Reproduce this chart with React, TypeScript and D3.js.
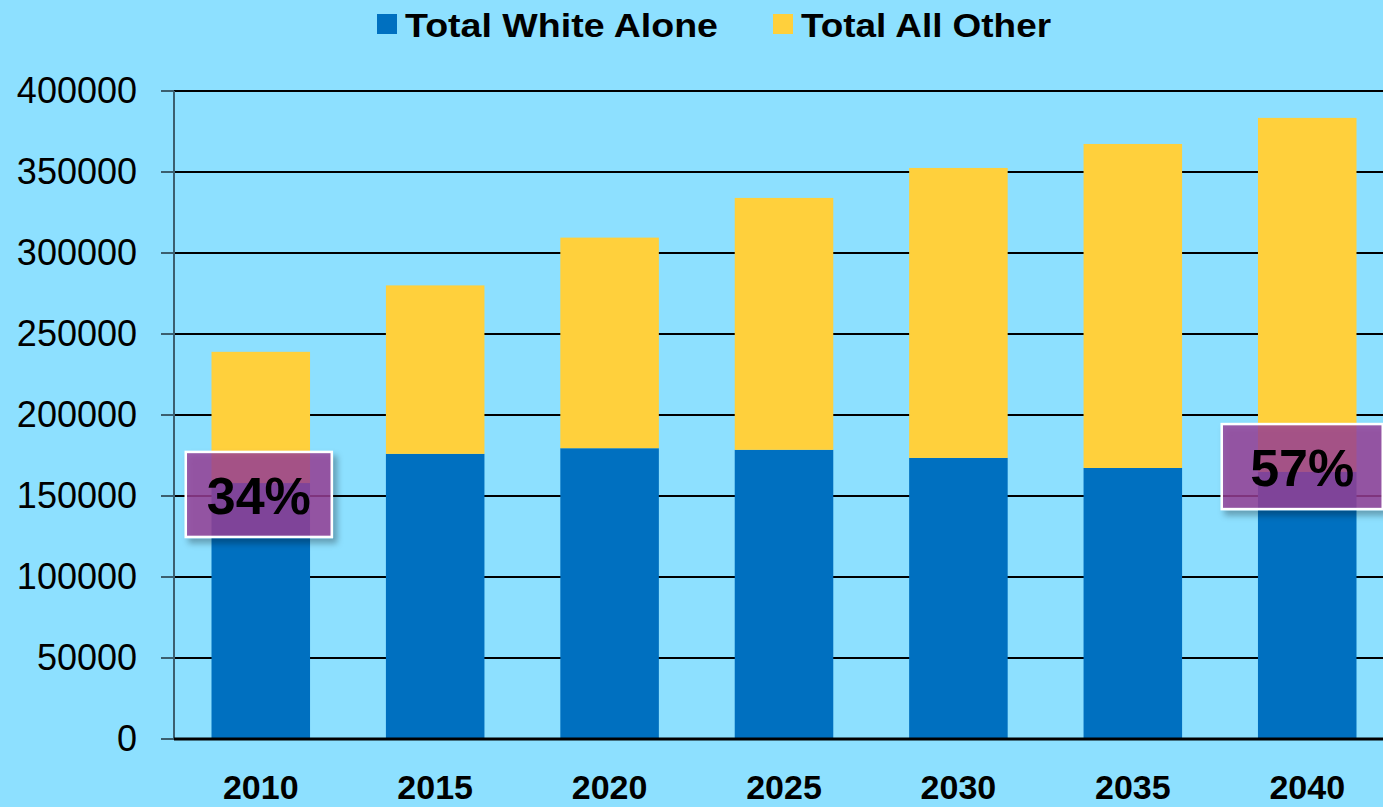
import { useEffect, useRef } from "react";
import * as d3 from "d3";

const years = ["2010", "2015", "2020", "2025", "2030", "2035", "2040"];
const whiteAlone = [158000, 176000, 179500, 178500, 173500, 167300, 164900];
const allOther = [81000, 104000, 130000, 155500, 179000, 200000, 218500];
const yTicks = [0, 50000, 100000, 150000, 200000, 250000, 300000, 350000, 400000];
const seriesNames = ["Total White Alone", "Total All Other"];

// percent call-outs: year, label, top of box in data units
const callouts = [
  { year: "2010", label: "34%", top: 177200, w: 146, dx: -2 },
  { year: "2040", label: "57%", top: 194400, w: 161, dx: -5 },
];

const W = 1383;
const H = 807;
const BG = "#8de0ff";
const BLUE = "#0070c0";
const YELLOW = "#ffd03c";

export default function App() {
  const svgRef = useRef<SVGSVGElement>(null);

  useEffect(() => {
    document.body.style.margin = "0";
    const svg = d3.select(svgRef.current);
    svg.selectAll("*").remove();

    const left = 174;
    const top = 91;
    const bottom = 739;

    const x = d3
      .scaleBand()
      .domain(years)
      .range([left, 1394])
      .paddingInner(0.435)
      .paddingOuter(0.215);

    const y = d3.scaleLinear().domain([0, 400000]).range([bottom, top]);

    svg.append("rect").attr("width", W).attr("height", H).attr("fill", BG);

    const defs = svg.append("defs");
    defs
      .append("filter")
      .attr("id", "shadow")
      .attr("x", "-20%")
      .attr("y", "-20%")
      .attr("width", "150%")
      .attr("height", "150%")
      .append("feDropShadow")
      .attr("dx", 4)
      .attr("dy", 5)
      .attr("stdDeviation", 3)
      .attr("flood-color", "#000")
      .attr("flood-opacity", 0.35);

    // grid
    svg
      .append("g")
      .selectAll("line")
      .data(yTicks.filter((t) => t > 0))
      .join("line")
      .attr("x1", left)
      .attr("x2", W)
      .attr("y1", (d) => y(d))
      .attr("y2", (d) => y(d))
      .attr("stroke", "#000")
      .attr("stroke-width", 2);

    // stacked bars
    const stacked = years.map((yr, i) => ({ yr, a: whiteAlone[i], b: allOther[i] }));
    const bars = svg.append("g");
    bars
      .selectAll("rect.white")
      .data(stacked)
      .join("rect")
      .attr("class", "white")
      .attr("x", (d) => x(d.yr)!)
      .attr("width", x.bandwidth())
      .attr("y", (d) => y(d.a))
      .attr("height", (d) => y(0) - y(d.a))
      .attr("fill", BLUE);
    bars
      .selectAll("rect.other")
      .data(stacked)
      .join("rect")
      .attr("class", "other")
      .attr("x", (d) => x(d.yr)!)
      .attr("width", x.bandwidth())
      .attr("y", (d) => y(d.a + d.b))
      .attr("height", (d) => y(d.a) - y(d.a + d.b))
      .attr("fill", YELLOW);

    // axes
    svg
      .append("line")
      .attr("x1", left)
      .attr("x2", left)
      .attr("y1", top)
      .attr("y2", bottom)
      .attr("stroke", "#3b5f6f")
      .attr("stroke-width", 2);
    svg
      .append("g")
      .selectAll("line")
      .data(yTicks)
      .join("line")
      .attr("x1", left - 13)
      .attr("x2", left)
      .attr("y1", (d) => y(d))
      .attr("y2", (d) => y(d))
      .attr("stroke", "#3b5f6f")
      .attr("stroke-width", 2);
    svg
      .append("line")
      .attr("x1", left)
      .attr("x2", W)
      .attr("y1", bottom)
      .attr("y2", bottom)
      .attr("stroke", "#000")
      .attr("stroke-width", 3);

    svg
      .append("g")
      .selectAll("text")
      .data(yTicks)
      .join("text")
      .attr("x", 137)
      .attr("y", (d) => y(d) + 12)
      .attr("text-anchor", "end")
      .attr("font-family", "Liberation Sans, Arial, sans-serif")
      .attr("font-size", 36)
      .attr("fill", "#000")
      .text((d) => String(d));

    svg
      .append("g")
      .selectAll("text")
      .data(years)
      .join("text")
      .attr("x", (d) => x(d)! + x.bandwidth() / 2)
      .attr("y", 799)
      .attr("text-anchor", "middle")
      .attr("font-family", "Liberation Sans, Arial, sans-serif")
      .attr("font-weight", "bold")
      .attr("font-size", 34)
      .attr("fill", "#000")
      .text((d) => d);

    // legend
    const legend = [
      { name: seriesNames[0], color: BLUE, x: 377, w: 313 },
      { name: seriesNames[1], color: YELLOW, x: 773, w: 250 },
    ];
    const lg = svg.append("g");
    lg.selectAll("rect")
      .data(legend)
      .join("rect")
      .attr("x", (d) => d.x)
      .attr("y", 14)
      .attr("width", 20)
      .attr("height", 20)
      .attr("fill", (d) => d.color);
    lg.selectAll("text")
      .data(legend)
      .join("text")
      .attr("x", (d) => d.x + 28)
      .attr("y", 37)
      .attr("textLength", (d) => d.w)
      .attr("lengthAdjust", "spacingAndGlyphs")
      .attr("font-family", "Liberation Sans, Arial, sans-serif")
      .attr("font-weight", "bold")
      .attr("font-size", 34)
      .attr("fill", "#000")
      .text((d) => d.name);

    // call-out boxes
    const boxH = 85;
    const cg = svg.append("g");
    callouts.forEach((c) => {
      const cx = x(c.year)! + x.bandwidth() / 2 + c.dx;
      const ty = y(c.top);
      cg.append("rect")
        .attr("x", cx - c.w / 2)
        .attr("y", ty)
        .attr("width", c.w)
        .attr("height", boxH)
        .attr("fill", "rgba(152,61,151,0.8)")
        .attr("stroke", "#fff")
        .attr("stroke-width", 2.5)
        .attr("filter", "url(#shadow)");
      cg.append("text")
        .attr("x", cx)
        .attr("y", ty + 62)
        .attr("text-anchor", "middle")
        .attr("font-family", "Liberation Sans, Arial, sans-serif")
        .attr("font-weight", "bold")
        .attr("font-size", 52)
        .attr("fill", "#000")
        .text(c.label);
    });
  }, []);

  return <svg ref={svgRef} width={W} height={H} style={{ display: "block" }}></svg>;
}
